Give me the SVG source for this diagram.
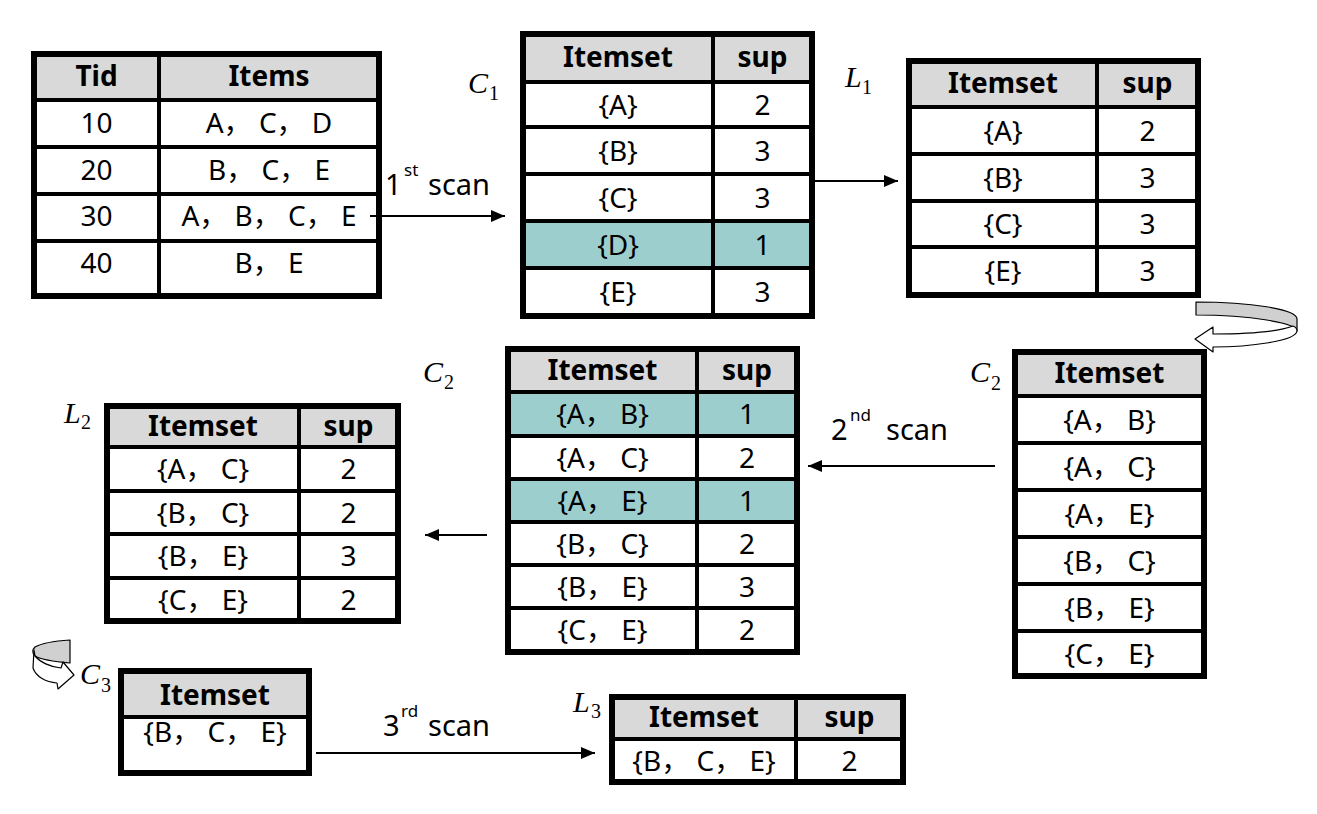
<svg xmlns="http://www.w3.org/2000/svg" width="1317" height="814" viewBox="0 0 1317 814">
<style>
.bg{fill:#fff}
.hdr{fill:#d9d9d9}
.body{fill:#fff}
.hl{fill:#9dcece}
.frame{fill:none;stroke:#000;stroke-width:6}
.grid{stroke:#000;stroke-width:4;fill:none}
.t{font-family:"Noto Sans","Noto Sans CJK SC",sans-serif;font-size:28px;text-anchor:middle;fill:#000}
.b{font-weight:bold}
.lbl{font-family:"Noto Sans","Noto Sans CJK SC",sans-serif;font-size:29px;fill:#000}
.sup{font-family:"Noto Sans",sans-serif;font-size:17px;fill:#000}
.m{font-family:"Liberation Serif",serif;font-style:italic;font-size:30px;fill:#000}
.ms{font-family:"Liberation Serif",serif;font-size:20px;fill:#000}
.conn{stroke:#000;stroke-width:2;fill:none}
.rib-g{fill:#d0d0d0;stroke:#000;stroke-width:1.2;stroke-linejoin:round}
.rib-w{fill:#fff;stroke:#000;stroke-width:1.2;stroke-linejoin:round}
</style>
<defs>
<marker id="ah" markerUnits="userSpaceOnUse" markerWidth="14" markerHeight="12" refX="14" refY="6" orient="auto">
<path d="M0,0 L14,6 L0,12 Z" fill="#000"/>
</marker>
</defs>
<rect class="bg" x="0" y="0" width="1317" height="814"/>

<g id="tid-table">
<rect class="hdr" x="34" y="54" width="345" height="46"/>
<rect class="body" x="34" y="100" width="345" height="196"/>
<path class="grid" d="M34,100H379M34,147H379M34,194H379M34,241H379M159,54V296"/>
<rect class="frame" x="34" y="54" width="345" height="242"/>
<text class="t b" x="96.5" y="86">Tid</text>
<text class="t b" x="269" y="86">Items</text>
<text class="t" x="96.5" y="133">10</text><text class="t" x="269" y="133">A， C， D</text>
<text class="t" x="96.5" y="180">20</text><text class="t" x="269" y="180">B， C， E</text>
<text class="t" x="96.5" y="226">30</text><text class="t" x="269" y="226">A， B， C， E</text>
<text class="t" x="96.5" y="273">40</text><text class="t" x="269" y="273">B， E</text>
</g>

<g id="c1-table">
<rect class="hdr" x="523" y="34" width="289" height="48"/>
<rect class="body" x="523" y="82" width="289" height="234"/>
<rect class="hl" x="523" y="221" width="289" height="47"/>
<path class="grid" d="M523,82H812M523,127H812M523,174H812M523,221H812M523,268H812M713,34V316"/>
<rect class="frame" x="523" y="34" width="289" height="282"/>
<text class="t b" x="618" y="67">Itemset</text><text class="t b" x="762.5" y="67">sup</text>
<text class="t" x="618" y="114.5">{A}</text><text class="t" x="762.5" y="114.5">2</text>
<text class="t" x="618" y="160.5">{B}</text><text class="t" x="762.5" y="160.5">3</text>
<text class="t" x="618" y="207.5">{C}</text><text class="t" x="762.5" y="207.5">3</text>
<text class="t" x="618" y="254.5">{D}</text><text class="t" x="762.5" y="254.5">1</text>
<text class="t" x="618" y="302">{E}</text><text class="t" x="762.5" y="302">3</text>
</g>
<g id="c1-label"><text class="m" x="468" y="93">C</text><text class="ms" x="489" y="100">1</text></g>

<g id="l1-table">
<rect class="hdr" x="909" y="61" width="289" height="46"/>
<rect class="body" x="909" y="107" width="289" height="188"/>
<path class="grid" d="M909,107H1198M909,154H1198M909,201H1198M909,247H1198M1097,61V295"/>
<rect class="frame" x="909" y="61" width="289" height="234"/>
<text class="t b" x="1003" y="93">Itemset</text><text class="t b" x="1147.5" y="93">sup</text>
<text class="t" x="1003" y="140.5">{A}</text><text class="t" x="1147.5" y="140.5">2</text>
<text class="t" x="1003" y="187.5">{B}</text><text class="t" x="1147.5" y="187.5">3</text>
<text class="t" x="1003" y="234">{C}</text><text class="t" x="1147.5" y="234">3</text>
<text class="t" x="1003" y="281">{E}</text><text class="t" x="1147.5" y="281">3</text>
</g>
<g id="l1-label"><text class="m" x="845" y="87">L</text><text class="ms" x="862" y="94">1</text></g>

<g id="c2-candidates-table">
<rect class="hdr" x="1015" y="352" width="189" height="44"/>
<rect class="body" x="1015" y="396" width="189" height="280"/>
<path class="grid" d="M1015,396H1204M1015,443H1204M1015,490H1204M1015,537H1204M1015,584H1204M1015,631H1204"/>
<rect class="frame" x="1015" y="352" width="189" height="324"/>
<text class="t b" x="1109.5" y="383">Itemset</text>
<text class="t" x="1109.5" y="429.5">{A， B}</text>
<text class="t" x="1109.5" y="476.5">{A， C}</text>
<text class="t" x="1109.5" y="523.5">{A， E}</text>
<text class="t" x="1109.5" y="570.5">{B， C}</text>
<text class="t" x="1109.5" y="617.5">{B， E}</text>
<text class="t" x="1109.5" y="663.5">{C， E}</text>
</g>
<g id="c2-right-label"><text class="m" x="970" y="382">C</text><text class="ms" x="991" y="390">2</text></g>

<g id="c2-count-table">
<rect class="hdr" x="508" y="349" width="289" height="43"/>
<rect class="body" x="508" y="392" width="289" height="260"/>
<rect class="hl" x="508" y="392" width="289" height="44"/>
<rect class="hl" x="508" y="479" width="289" height="43"/>
<path class="grid" d="M508,392H797M508,436H797M508,479H797M508,522H797M508,565H797M508,608H797M697,349V652"/>
<rect class="frame" x="508" y="349" width="289" height="303"/>
<text class="t b" x="602.5" y="379.5">Itemset</text><text class="t b" x="747" y="379.5">sup</text>
<text class="t" x="602.5" y="424">{A， B}</text><text class="t" x="747" y="424">1</text>
<text class="t" x="602.5" y="467.5">{A， C}</text><text class="t" x="747" y="467.5">2</text>
<text class="t" x="602.5" y="510.5">{A， E}</text><text class="t" x="747" y="510.5">1</text>
<text class="t" x="602.5" y="553.5">{B， C}</text><text class="t" x="747" y="553.5">2</text>
<text class="t" x="602.5" y="596.5">{B， E}</text><text class="t" x="747" y="596.5">3</text>
<text class="t" x="602.5" y="640">{C， E}</text><text class="t" x="747" y="640">2</text>
</g>
<g id="c2-mid-label"><text class="m" x="423" y="382">C</text><text class="ms" x="444" y="389">2</text></g>

<g id="l2-table">
<rect class="hdr" x="107" y="406" width="291" height="41"/>
<rect class="body" x="107" y="447" width="291" height="174"/>
<path class="grid" d="M107,447H398M107,491H398M107,534H398M107,578H398M299,406V621"/>
<rect class="frame" x="107" y="406" width="291" height="215"/>
<text class="t b" x="203" y="435.5">Itemset</text><text class="t b" x="348.5" y="435.5">sup</text>
<text class="t" x="203" y="479">{A， C}</text><text class="t" x="348.5" y="479">2</text>
<text class="t" x="203" y="522.5">{B， C}</text><text class="t" x="348.5" y="522.5">2</text>
<text class="t" x="203" y="566">{B， E}</text><text class="t" x="348.5" y="566">3</text>
<text class="t" x="203" y="609.5">{C， E}</text><text class="t" x="348.5" y="609.5">2</text>
</g>
<g id="l2-label"><text class="m" x="64" y="423">L</text><text class="ms" x="81" y="429">2</text></g>

<g id="c3-table">
<rect class="hdr" x="121" y="671" width="188" height="46"/>
<rect class="body" x="121" y="717" width="188" height="56"/>
<path class="grid" d="M121,717H309"/>
<rect class="frame" x="121" y="671" width="188" height="102"/>
<text class="t b" x="215" y="705">Itemset</text>
<text class="t" x="215" y="742">{B， C， E}</text>
</g>
<g id="c3-label"><text class="m" x="80" y="684">C</text><text class="ms" x="101" y="692">3</text></g>

<g id="l3-table">
<rect class="hdr" x="612" y="697" width="291" height="42"/>
<rect class="body" x="612" y="739" width="291" height="43"/>
<path class="grid" d="M612,739H903M796,697V782"/>
<rect class="frame" x="612" y="697" width="291" height="85"/>
<text class="t b" x="704" y="727">Itemset</text><text class="t b" x="849.5" y="727">sup</text>
<text class="t" x="704" y="770.5">{B， C， E}</text><text class="t" x="849.5" y="770.5">2</text>
</g>
<g id="l3-label"><text class="m" x="573" y="712">L</text><text class="ms" x="591" y="718">3</text></g>

<g id="connectors">
<path class="conn" d="M370,216H505" marker-end="url(#ah)"/>
<path class="conn" d="M815,181H898" marker-end="url(#ah)"/>
<path class="conn" d="M995,466H808" marker-end="url(#ah)"/>
<path class="conn" d="M487,535H425" marker-end="url(#ah)"/>
<path class="conn" d="M316,753H595" marker-end="url(#ah)"/>
<path class="rib-g" d="M1196,302 C1250,302 1297,309 1297,319 L1297,331 C1297,323 1250,315 1196,315 Z"/>
<path class="rib-w" d="M1297,331 C1296,341 1250,347 1213,347 L1213,352 L1195,339 L1213,327 L1213,334 C1250,334 1280,331 1293,326 C1296,327 1297,329 1297,331 Z"/>
<path class="rib-g" d="M70,640 L70,663 C58,662 42,660 35,656 C32,653 32,650 35,647 C42,643 55,641 70,640 Z"/>
<path class="rib-w" d="M34,650 L33,668 C36,677 46,682 57,683 L58,689 L74,675 L63,662 L61,668 C50,667 40,662 35,656 Z"/>
</g>

<g id="scan-labels">
<text class="lbl" x="385" y="195">1</text><text class="sup" x="404" y="176">st</text><text class="lbl" x="428" y="195">scan</text>
<text class="lbl" x="831" y="440">2</text><text class="sup" x="850" y="421">nd</text><text class="lbl" x="886" y="440">scan</text>
<text class="lbl" x="383" y="736">3</text><text class="sup" x="401" y="717">rd</text><text class="lbl" x="428" y="736">scan</text>
</g>
</svg>
